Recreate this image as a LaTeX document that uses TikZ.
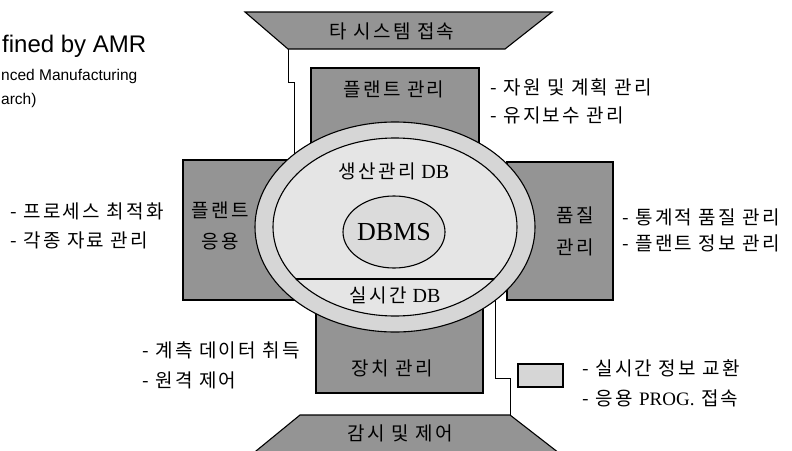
\documentclass[tikz,border=0pt]{standalone}
\usepackage{fontspec}
\setmainfont{Liberation Serif}
\newfontfamily\kr[LetterSpace=12]{Noto Sans CJK KR}
\newfontfamily\arial{Liberation Sans}
\begin{document}
\begin{tikzpicture}[x=1pt,y=-1pt,
	darkbox/.style={draw=black, line width=1.1pt, fill=black!42},
	ring/.style={draw=black, line width=1.1pt},
	lbl/.style={font=\kr\fontsize{19}{21}\selectfont, anchor=west, inner sep=0pt},
	boxtxt/.style={font=\kr\fontsize{19}{21}\selectfont, inner sep=0pt}]
\useasboundingbox (0,0) rectangle (792,450);
% title (cut at the left edge)
	\node[font=\arial\fontsize{24}{26}\selectfont, anchor=base west, inner sep=0pt] (amr) at (2,52) {fined by AMR};
	\node[font=\arial\fontsize{15.5}{17}\selectfont, anchor=base west, inner sep=0pt] (amr2) at (1,80) {nced Manufacturing};
	\node[font=\arial\fontsize{15.5}{17}\selectfont, anchor=base west, inner sep=0pt] (amr3) at (1,104) {arch)};
% bus lines
	\draw[line width=1pt] (288,49) -- (288,82) -- (294,82) -- (294,180);
	\draw[line width=1pt] (495,280) -- (495,378) -- (510,378) -- (510,415);
% top and bottom
	\draw[darkbox] (245,12) -- (552,12) -- (505,49) -- (288,49) -- cycle;
	\draw[darkbox] (300,415) -- (510,415) -- (568,460) -- (245,460) -- cycle;
% boxes round the DB
	\draw[darkbox] (311,68) rectangle (479,170);
	\draw[darkbox] (183,160) rectangle (300,300);
	\draw[darkbox] (507,162) rectangle (613,300);
	\draw[darkbox] (316,300) rectangle (483,393);
% DB
	\draw[ring, fill=black!16] (395,227) ellipse [x radius=140, y radius=105];
	\draw[ring, fill=black!10] (395,227) ellipse [x radius=122, y radius=89];
	\begin{scope}
		\clip (395,227) ellipse [x radius=122, y radius=89];
		\draw[ring] (260,279) -- (530,279);
	\end{scope}
	\draw[ring, fill=black!14] (394,232) ellipse [x radius=51, y radius=36];
% legend
	\draw[ring, fill=black!16] (518,364) rectangle (563,387);
% box labels
	\node[boxtxt] (sys) at (392,31) {타 시스템 접속};
	\node[boxtxt] (mon) at (400,433) {감시 및 제어};
	\node[boxtxt] (plant) at (394,89) {플랜트 관리};
	\node[boxtxt] (app1) at (220,210) {플랜트};
	\node[boxtxt] (app2) at (220,242) {응용};
	\node[boxtxt] (qual1) at (575,215) {품질};
	\node[boxtxt] (qual2) at (575,247) {관리};
	\node[boxtxt] (dev) at (392,368) {장치 관리};
	\node[inner sep=0pt] (prod) at (394,171) {{\kr\fontsize{19}{21}\selectfont 생산관리}\hspace{6pt}{\fontsize{20}{22}\selectfont DB}};
	\node[inner sep=0pt, font=\fontsize{26}{28}\selectfont] (dbms) at (394,232) {DBMS};
	\node[inner sep=0pt] (rt) at (395,295) {{\kr\fontsize{19}{21}\selectfont 실시간}\hspace{6pt}{\fontsize{20}{22}\selectfont DB}};
% side labels
	\node[lbl] (l1) at (490,87) {- 자원 및 계획 관리};
	\node[lbl] (l2) at (490,115) {- 유지보수 관리};
	\node[lbl] (l3) at (10,211) {- 프로세스 최적화};
	\node[lbl] (l4) at (10,240) {- 각종 자료 관리};
	\node[lbl] (l5) at (622,217) {- 통계적 품질 관리};
	\node[lbl] (l6) at (622,243) {- 플랜트 정보 관리};
	\node[lbl] (l7) at (142,350) {- 계측 데이터 취득};
	\node[lbl] (l8) at (142,380) {- 원격 제어};
	\node[lbl] (l9) at (582,368) {- 실시간 정보 교환};
	\node[lbl] (l10) at (582,398) {- 응용 {\rmfamily PROG.} 접속};
\end{tikzpicture}
\end{document}
